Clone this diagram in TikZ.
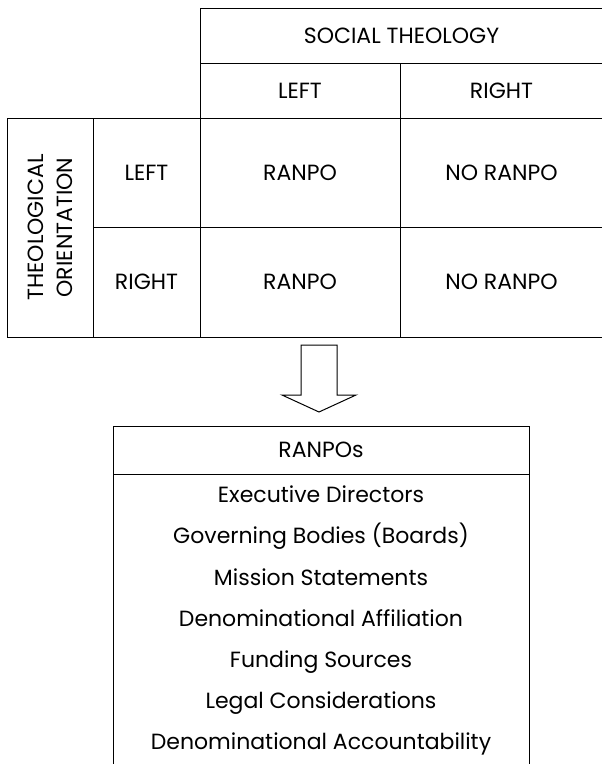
\documentclass[tikz,border=0pt]{standalone}
\usepackage{fontspec}
\setmainfont{Poppins}
\usetikzlibrary{positioning}

\begin{document}
\begin{tikzpicture}[x=0.75pt, y=-0.75pt,
cell/.style={draw=black, line width=0.75pt, inner sep=0pt, outer sep=0pt, align=center, font=\fontsize{16.5}{20}\selectfont},
item/.style={inner sep=0pt, text height=11.5pt, text depth=3.5pt, font=\fontsize{16.5}{20}\selectfont}
]
\useasboundingbox (0,0) rectangle (602,764);
%Table
\node[cell, anchor=north west, minimum width=302.25pt, minimum height=41.25pt] (social) at (200,8) {SOCIAL THEOLOGY};
\node[cell, minimum width=150pt, minimum height=41.25pt]    (sleft)  [below right=0pt of social.south west] {LEFT};
\node[cell, minimum width=152.25pt, minimum height=41.25pt] (sright) [right=0pt of sleft]  {RIGHT};
\node[cell, minimum width=150pt, minimum height=81.75pt]    (c11)    [below=0pt of sleft]  {RANPO};
\node[cell, minimum width=152.25pt, minimum height=81.75pt] (c12)    [below=0pt of sright] {NO RANPO};
\node[cell, minimum width=150pt, minimum height=82.5pt]     (c21)    [below=0pt of c11]    {RANPO};
\node[cell, minimum width=152.25pt, minimum height=82.5pt]  (c22)    [below=0pt of c12]    {NO RANPO};
\node[cell, minimum width=80.25pt, minimum height=81.75pt]  (tleft)  [left=0pt of c11]     {LEFT};
\node[cell, minimum width=80.25pt, minimum height=82.5pt]   (tright) [left=0pt of c21]     {RIGHT};
\node[cell, minimum width=64.5pt, minimum height=164.25pt]  (theo)   [below left=0pt of tleft.north west] {};
\node[cell, draw=none, rotate=90] (theotext) at (theo) {THEOLOGICAL\\[2pt]ORIENTATION};
%Arrow
\draw[line width=0.75pt] (301,345) -- (337,345) -- (337,395) -- (356,395) -- (319,412) -- (282,395) -- (301,395) -- cycle;
%Box
\node[cell, anchor=north west, minimum width=312pt, minimum height=36pt] (ranpos) at (113,426) {RANPOs};
\node[cell, minimum width=312pt, minimum height=225.75pt] (listbox) [below=0pt of ranpos] {};
\node[item] (exec)    [below=9.75pt of ranpos.south] {Executive Directors};
\node[item] (boards)  [below=15.5pt of exec]   {Governing Bodies (Boards)};
\node[item] (mission) [below=15.5pt of boards] {Mission Statements};
\node[item] (affil)   [below=15.5pt of mission] {Denominational Affiliation};
\node[item] (funding) [below=15.5pt of affil]  {Funding Sources};
\node[item] (legal)   [below=15.5pt of funding] {Legal Considerations};
\node[item] (account) [below=15.5pt of legal]  {Denominational Accountability};
\end{tikzpicture}
\end{document}
